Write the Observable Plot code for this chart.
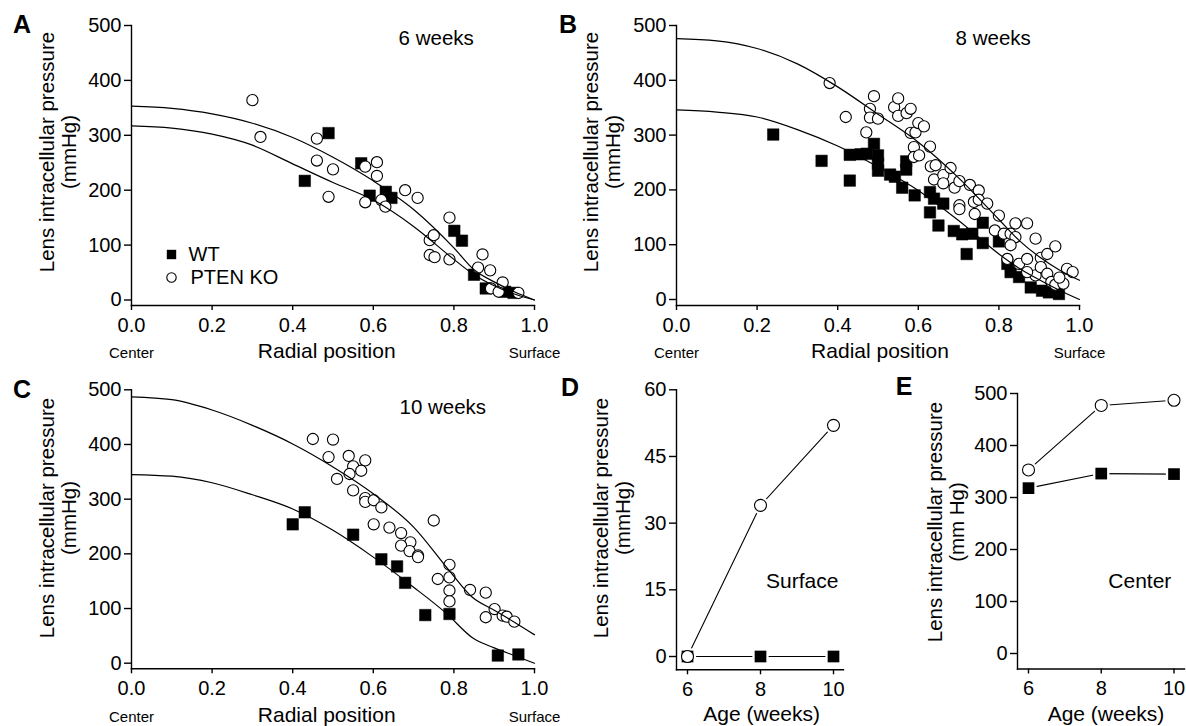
<!DOCTYPE html>
<html><head><meta charset="utf-8">
<script src="https://cdn.jsdelivr.net/npm/d3@7"></script>
<script src="https://cdn.jsdelivr.net/npm/@observablehq/plot@0.6"></script>
<style>
body{margin:0;background:#fff;}
#fig{position:relative;width:1186px;height:726px;overflow:hidden;font-family:'Liberation Sans',Arial,Helvetica,sans-serif;color:#000;background:#fff;}
#fig svg{position:absolute;}
.t{position:absolute;transform:translate(-50%,-50%);white-space:nowrap;line-height:1;text-align:center;}
.yt{position:absolute;transform:translate(-50%,-50%) rotate(-90deg);white-space:nowrap;text-align:center;line-height:21.6px;font-size:20.5px;}
.letter{font-weight:900;font-size:25px;}
.xt{font-size:21px;}
</style></head><body><div id="fig"></div>
<script>
// ---------- shared ticks / categories ----------
const radialTicks = [0, 0.2, 0.4, 0.6, 0.8, 1.0];
const pressureTicks = [0, 100, 200, 300, 400, 500];
const surfaceTicks = [0, 15, 30, 45, 60];
const ageWeeks = [6, 8, 10];
const legendLabels = ["WT", "PTEN KO"];
const positionLabels = ["Center", "Surface"];

// ---------- Panel A: 6 weeks ----------
const a_wt_r = [0.43, 0.489, 0.570, 0.591, 0.631, 0.645, 0.801, 0.820, 0.850, 0.879, 0.927, 0.948];
const a_wt_p = [217, 304, 249, 190, 197, 186, 126, 108, 46, 21, 15, 13];
const a_ko_r = [0.300, 0.320, 0.460, 0.460, 0.489, 0.500, 0.580, 0.580, 0.609, 0.609, 0.620, 0.630, 0.679, 0.710, 0.740, 0.750, 0.740, 0.752, 0.789, 0.789, 0.860, 0.871, 0.890, 0.892, 0.911, 0.921, 0.960];
const a_ko_p = [364, 297, 294, 254, 188, 238, 243, 178, 251, 226, 182, 170, 200, 186, 109, 118, 82, 78, 150, 74, 59, 83, 54, 21, 15, 32, 13];
const a_fit_r = [0, 0.1, 0.2, 0.3, 0.4, 0.5, 0.6, 0.7, 0.8, 0.85, 0.9, 0.95, 1.0];
const a_fit_wt = [317, 313, 302, 282, 248, 214, 182, 134, 74, 46, 26, 11, 0];
const a_fit_ko = [353, 349, 339, 322, 296, 260, 217, 165, 95, 55, 33, 15, 0];

// ---------- Panel B: 8 weeks ----------
const b_wt_r = [0.240, 0.360, 0.430, 0.430, 0.457, 0.472, 0.490, 0.500, 0.500, 0.500, 0.530, 0.542, 0.560, 0.570, 0.570, 0.591, 0.629, 0.629, 0.639, 0.662, 0.650, 0.688, 0.709, 0.720, 0.734, 0.760, 0.760, 0.800, 0.821, 0.829, 0.850, 0.879, 0.907, 0.924, 0.949];
const b_wt_p = [301, 253, 264, 217, 265, 266, 284, 263, 248, 235, 228, 224, 204, 252, 237, 190, 196, 159, 184, 175, 135, 125, 119, 83, 120, 140, 103, 106, 65, 50, 41, 22, 16, 13, 10];
const b_ko_r = [0.380, 0.420, 0.471, 0.480, 0.480, 0.490, 0.500, 0.540, 0.550, 0.550, 0.571, 0.581, 0.581, 0.593, 0.600, 0.614, 0.589, 0.589, 0.602, 0.629, 0.631, 0.643, 0.639, 0.662, 0.662, 0.680, 0.690, 0.702, 0.702, 0.702, 0.728, 0.740, 0.738, 0.750, 0.750, 0.771, 0.790, 0.800, 0.812, 0.829, 0.841, 0.841, 0.829, 0.821, 0.850, 0.870, 0.870, 0.891, 0.891, 0.904, 0.904, 0.920, 0.920, 0.930, 0.940, 0.940, 0.960, 0.969, 0.983, 0.870, 0.950];
const b_ko_p = [395, 333, 305, 348, 332, 371, 330, 351, 367, 335, 340, 348, 304, 305, 322, 316, 278, 260, 263, 279, 243, 245, 219, 227, 212, 240, 204, 216, 172, 165, 209, 156, 178, 199, 182, 175, 126, 153, 120, 120, 139, 114, 99, 74, 65, 139, 74, 111, 44, 76, 59, 83, 47, 32, 97, 27, 29, 56, 50, 50, 40];
const b_fit_r = [0, 0.1, 0.2, 0.3, 0.4, 0.5, 0.6, 0.7, 0.8, 0.85, 0.9, 0.95, 1.0];
const b_fit_wt = [346, 342, 333, 310, 280, 242, 199, 144, 83, 57, 36, 17, 0];
const b_fit_ko = [476, 472, 458, 430, 388, 338, 287, 222, 146, 108, 78, 54, 35];

// ---------- Panel C: 10 weeks ----------
const c_wt_r = [0.400, 0.430, 0.550, 0.620, 0.659, 0.679, 0.729, 0.789, 0.909, 0.960];
const c_wt_p = [254, 276, 235, 190, 177, 147, 88, 90, 14, 16];
const c_ko_r = [0.450, 0.500, 0.489, 0.539, 0.550, 0.580, 0.570, 0.541, 0.510, 0.550, 0.580, 0.580, 0.601, 0.620, 0.601, 0.640, 0.669, 0.692, 0.669, 0.690, 0.711, 0.711, 0.750, 0.760, 0.789, 0.789, 0.789, 0.789, 0.840, 0.879, 0.879, 0.901, 0.921, 0.931, 0.950];
const c_ko_p = [410, 409, 377, 379, 360, 371, 352, 346, 337, 316, 302, 295, 298, 285, 254, 248, 238, 221, 215, 205, 197, 194, 261, 154, 180, 157, 133, 113, 134, 129, 84, 99, 87, 85, 76];
const c_fit_wt_r = [0, 0.1, 0.2, 0.3, 0.4, 0.5, 0.6, 0.7, 0.78, 0.849, 0.9, 0.95, 1.0];
const c_fit_wt = [345, 342, 330, 308, 282, 243, 194, 139, 92, 45, 28, 14, 0];
const c_fit_ko_r = [0, 0.1, 0.2, 0.3, 0.4, 0.5, 0.6, 0.7, 0.79, 0.845, 0.9, 0.95, 1.0];
const c_fit_ko = [487, 482, 463, 435, 401, 359, 310, 249, 168, 121, 97, 75, 52];

// ---------- Panel D: surface pressure vs age ----------
const d_wt = [0, 0, 0];
const d_ko = [0, 34, 52];

// ---------- Panel E: center pressure vs age ----------
const e_wt = [318, 346, 345];
const e_ko = [353, 477, 487];

const FONT = "'Liberation Sans', Arial, Helvetica, sans-serif";
const zip = (xs, ys) => xs.map((x, i) => ({x, y: ys[i]}));
const AX = 1.4;

function baseStyle() {
  return {fontFamily: FONT, fontSize: "20px", color: "black", background: "transparent", overflow: "visible"};
}

function radialPanel(o) {
  const wt = zip(o.wtR, o.wtP), ko = zip(o.koR, o.koP);
  const fw = zip(o.fwR, o.fwP), fk = zip(o.fkR, o.fkP);
  const marks = [
    Plot.frame({anchor: "left", strokeWidth: AX}),
    Plot.frame({anchor: "bottom", strokeWidth: AX}),
    Plot.axisY({ticks: pressureTicks, tickSize: 7, tickPadding: 3, label: null, strokeWidth: AX, fontSize: 20}),
    Plot.axisX({ticks: radialTicks, tickSize: 5, tickPadding: 7, tickFormat: d3.format(".1f"), label: null, strokeWidth: AX, fontSize: 20}),
    Plot.dot(wt, {x: "x", y: "y", symbol: "square", r: 6.5, fill: "black", stroke: "black", strokeWidth: 0.5}),
    Plot.dot(ko, {x: "x", y: "y", symbol: "circle", r: 5.6, fill: "white", stroke: "black", strokeWidth: 1.1}),
    Plot.line(fw, {x: "x", y: "y", curve: "monotone-x", stroke: "black", strokeWidth: 1.2}),
    Plot.line(fk, {x: "x", y: "y", curve: "monotone-x", stroke: "black", strokeWidth: 1.2}),
    Plot.text([o.title], {text: d => d, frameAnchor: "top-left", dx: o.tdx, dy: o.tdy, textAnchor: "middle", lineAnchor: "middle", fontSize: 20.5}),
    Plot.text(positionLabels, {text: d => d, x: [radialTicks[0], radialTicks[radialTicks.length - 1]], frameAnchor: "bottom", dy: 48, textAnchor: "middle", lineAnchor: "middle", fontSize: 15})
  ];
  if (o.legend) {
    marks.push(
      Plot.dot([legendLabels[0]], {frameAnchor: "top-left", dx: 40, dy: 229, symbol: "square", r: 5.3, fill: "black"}),
      Plot.dot([legendLabels[1]], {frameAnchor: "top-left", dx: 40, dy: 252, symbol: "circle", r: 4.7, fill: "white", stroke: "black", strokeWidth: 1.1}),
      Plot.text([legendLabels[0]], {text: d => d, frameAnchor: "top-left", dx: 57, dy: 229, textAnchor: "start", lineAnchor: "middle", fontSize: 20}),
      Plot.text([legendLabels[1]], {text: d => d, frameAnchor: "top-left", dx: 59, dy: 252, textAnchor: "start", lineAnchor: "middle", fontSize: 20})
    );
  }
  const svg = Plot.plot({
    width: o.w, height: o.h,
    marginLeft: o.ml, marginRight: o.mr, marginTop: o.mt, marginBottom: o.mb,
    style: baseStyle(),
    x: {domain: [0, 1]},
    y: {domain: [0, 500], insetBottom: o.ib},
    marks
  });
  svg.style.left = o.left + "px"; svg.style.top = o.top + "px";
  return svg;
}

function agePanel(o) {
  const wt = zip(ageWeeks, o.wt), ko = zip(ageWeeks, o.ko);
  const svg = Plot.plot({
    width: o.w, height: o.h,
    marginLeft: o.ml, marginRight: o.mr, marginTop: o.mt, marginBottom: o.mb,
    style: baseStyle(),
    x: {domain: [ageWeeks[0], ageWeeks[ageWeeks.length - 1]], insetLeft: o.il, insetRight: o.ir},
    y: {domain: [o.yTicks[0], o.yTicks[o.yTicks.length - 1]], insetBottom: o.ib},
    marks: [
      Plot.frame({anchor: "left", strokeWidth: AX}),
      Plot.frame({anchor: "bottom", strokeWidth: AX}),
      Plot.axisY({ticks: o.yTicks, tickSize: 7, tickPadding: 3, label: null, strokeWidth: AX, fontSize: 20}),
      Plot.axisX({ticks: ageWeeks, tickSize: 5, tickPadding: 7, tickFormat: d3.format("d"), label: null, strokeWidth: AX, fontSize: 20}),
      Plot.line(wt, {x: "x", y: "y", stroke: "black", strokeWidth: 1.1}),
      Plot.line(ko, {x: "x", y: "y", stroke: "black", strokeWidth: 1.1}),
      Plot.dot(wt, {x: "x", y: "y", symbol: "square", r: 9.2, fill: "white"}),
      Plot.dot(ko, {x: "x", y: "y", symbol: "circle", r: 8.6, fill: "white"}),
      Plot.dot(wt, {x: "x", y: "y", symbol: "square", r: 6.6, fill: "black"}),
      Plot.dot(ko, {x: "x", y: "y", symbol: "circle", r: 6.0, fill: "white", stroke: "black", strokeWidth: 1.1}),
      Plot.text([o.title], {text: d => d, frameAnchor: "top-left", dx: o.tdx, dy: o.tdy, textAnchor: "middle", lineAnchor: "middle", fontSize: 21})
    ]
  });
  svg.style.left = o.left + "px"; svg.style.top = o.top + "px";
  return svg;
}

const fig = document.getElementById("fig");

fig.append(radialPanel({left: 0, top: 0, w: 580, h: 360, ml: 131, mr: 46, mt: 25, mb: 55, ib: 5.5,
  wtR: a_wt_r, wtP: a_wt_p, koR: a_ko_r, koP: a_ko_p, fwR: a_fit_r, fwP: a_fit_wt, fkR: a_fit_r, fkP: a_fit_ko,
  title: "6 weeks", tdx: 304.7, tdy: 13.3, legend: true}));

fig.append(radialPanel({left: 580, top: 0, w: 606, h: 360, ml: 96, mr: 107, mt: 25, mb: 55, ib: 6,
  wtR: b_wt_r, wtP: b_wt_p, koR: b_ko_r, koP: b_ko_p, fwR: b_fit_r, fwP: b_fit_wt, fkR: b_fit_r, fkP: b_fit_ko,
  title: "8 weeks", tdx: 316.7, tdy: 13.3}));

fig.append(radialPanel({left: 0, top: 360, w: 580, h: 366, ml: 131, mr: 46, mt: 29.3, mb: 57.7, ib: 5.6,
  wtR: c_wt_r, wtP: c_wt_p, koR: c_ko_r, koP: c_ko_p, fwR: c_fit_wt_r, fwP: c_fit_wt, fkR: c_fit_ko_r, fkP: c_fit_ko,
  title: "10 weeks", tdx: 311.3, tdy: 17.4}));

fig.append(agePanel({left: 580, top: 360, w: 300, h: 366, ml: 96, mr: 37, mt: 29.3, mb: 56.7, il: 11, ir: 10, ib: 13.3,
  wt: d_wt, ko: d_ko, yTicks: surfaceTicks, title: "Surface", tdx: 125.7, tdy: 191.4}));

fig.append(agePanel({left: 880, top: 360, w: 306, h: 366, ml: 137, mr: 2, mt: 33, mb: 57.5, il: 11, ir: 10.5, ib: 15.5,
  wt: e_wt, ko: e_ko, yTicks: pressureTicks, title: "Center", tdx: 122.3, tdy: 187.7}));

// ---------- HTML text: panel letters, axis titles ----------
function addText(cls, html, x, y) {
  const d = document.createElement("div");
  d.className = cls; d.innerHTML = html;
  d.style.left = x + "px"; d.style.top = y + "px";
  fig.append(d);
}
const yTitle = "Lens intracellular pressure<br>(mmHg)";
const yTitleE = "Lens intracellular pressure<br>(mm Hg)";
addText("t letter", "A", 22, 24);
addText("t letter", "B", 568, 24);
addText("t letter", "C", 22, 389);
addText("t letter", "D", 570, 387);
addText("t letter", "E", 904, 386);
addText("yt", yTitle, 57.5, 152);
addText("yt", yTitle, 602, 152);
addText("yt", yTitle, 57.5, 518);
addText("yt", yTitle, 612.3, 518);
addText("yt", yTitleE, 945.5, 522);
addText("t xt", "Radial position", 326.7, 350);
addText("t xt", "Radial position", 880, 350);
addText("t xt", "Radial position", 326.7, 714);
addText("t xt", "Age (weeks)", 761.7, 713);
addText("t xt", "Age (weeks)", 1106, 713);
</script></body></html>
